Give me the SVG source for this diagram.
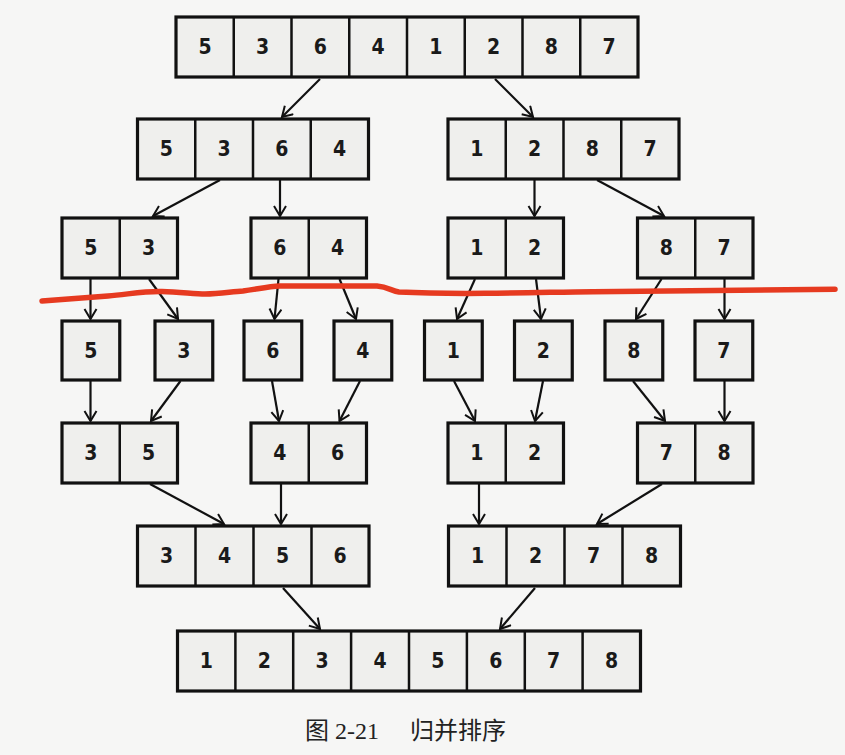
<svg xmlns="http://www.w3.org/2000/svg" width="845" height="755" viewBox="0 0 845 755">
<defs>
<marker id="ah" markerUnits="userSpaceOnUse" markerWidth="14" markerHeight="16" refX="11" refY="7" orient="auto">
<path d="M1,1 L11,7 L1,13" fill="none" stroke="#111" stroke-width="2"/>
</marker>
</defs>
<style>
.c{fill:#efefed;stroke:#111;stroke-width:3.2}
.d{stroke:#111;stroke-width:2.5}
.t{font-family:"DejaVu Sans Condensed","Liberation Sans",sans-serif;font-weight:bold;font-size:21px;fill:#1a1a1a;text-anchor:middle;dominant-baseline:central}
.a{stroke:#111;stroke-width:2.2;fill:none;marker-end:url(#ah)}
.cap{font-family:"Liberation Serif","Noto Sans CJK SC",serif;font-size:24px;fill:#222}
</style>
<rect width="845" height="755" fill="#f6f6f5"/>

<!-- Row 1 -->
<g id="r1">
<rect class="c" x="176" y="17" width="462" height="60"/>
<path class="d" d="M233.75 17V77M291.5 17V77M349.25 17V77M407 17V77M464.75 17V77M522.5 17V77M580.25 17V77"/>
<text class="t" x="205" y="47">5</text><text class="t" x="262.6" y="47">3</text><text class="t" x="320.4" y="47">6</text><text class="t" x="378.1" y="47">4</text><text class="t" x="435.9" y="47">1</text><text class="t" x="493.6" y="47">2</text><text class="t" x="551.4" y="47">8</text><text class="t" x="609.1" y="47">7</text>
</g>

<!-- Row 2 -->
<g id="r2a">
<rect class="c" x="137.5" y="119" width="231" height="60"/>
<path class="d" d="M195.25 119V179M253 119V179M310.75 119V179"/>
<text class="t" x="166.4" y="149">5</text><text class="t" x="224.1" y="149">3</text><text class="t" x="281.9" y="149">6</text><text class="t" x="339.6" y="149">4</text>
</g>
<g id="r2b">
<rect class="c" x="448" y="119" width="231" height="60"/>
<path class="d" d="M505.75 119V179M563.5 119V179M621.25 119V179"/>
<text class="t" x="476.9" y="149">1</text><text class="t" x="534.6" y="149">2</text><text class="t" x="592.4" y="149">8</text><text class="t" x="650.1" y="149">7</text>
</g>

<!-- Row 3 -->
<g id="r3a"><rect class="c" x="62" y="218" width="115.5" height="60"/><path class="d" d="M119.75 218V278"/><text class="t" x="90.9" y="248">5</text><text class="t" x="148.6" y="248">3</text></g>
<g id="r3b"><rect class="c" x="251" y="218" width="115.5" height="60"/><path class="d" d="M308.75 218V278"/><text class="t" x="279.9" y="248">6</text><text class="t" x="337.6" y="248">4</text></g>
<g id="r3c"><rect class="c" x="448" y="218" width="115.5" height="60"/><path class="d" d="M505.75 218V278"/><text class="t" x="476.9" y="248">1</text><text class="t" x="534.6" y="248">2</text></g>
<g id="r3d"><rect class="c" x="637.5" y="218" width="115.5" height="60"/><path class="d" d="M695.25 218V278"/><text class="t" x="666.4" y="248">8</text><text class="t" x="724.1" y="248">7</text></g>

<!-- Row 4 -->
<g id="r4a"><rect class="c" x="62" y="321" width="57.75" height="59"/><text class="t" x="90.9" y="350.5">5</text></g>
<g id="r4b"><rect class="c" x="155" y="321" width="57.75" height="59"/><text class="t" x="183.9" y="350.5">3</text></g>
<g id="r4c"><rect class="c" x="244" y="321" width="57.75" height="59"/><text class="t" x="272.9" y="350.5">6</text></g>
<g id="r4d"><rect class="c" x="334" y="321" width="57.75" height="59"/><text class="t" x="362.9" y="350.5">4</text></g>
<g id="r4e"><rect class="c" x="424.5" y="321" width="57.75" height="59"/><text class="t" x="453.4" y="350.5">1</text></g>
<g id="r4f"><rect class="c" x="514.5" y="321" width="57.75" height="59"/><text class="t" x="543.4" y="350.5">2</text></g>
<g id="r4g"><rect class="c" x="605" y="321" width="57.75" height="59"/><text class="t" x="633.9" y="350.5">8</text></g>
<g id="r4h"><rect class="c" x="695" y="321" width="57.75" height="59"/><text class="t" x="723.9" y="350.5">7</text></g>

<!-- Row 5 -->
<g id="r5a"><rect class="c" x="62" y="423" width="115.5" height="60"/><path class="d" d="M119.75 423V483"/><text class="t" x="90.9" y="453">3</text><text class="t" x="148.6" y="453">5</text></g>
<g id="r5b"><rect class="c" x="251" y="423" width="115.5" height="60"/><path class="d" d="M308.75 423V483"/><text class="t" x="279.9" y="453">4</text><text class="t" x="337.6" y="453">6</text></g>
<g id="r5c"><rect class="c" x="448" y="423" width="115.5" height="60"/><path class="d" d="M505.75 423V483"/><text class="t" x="476.9" y="453">1</text><text class="t" x="534.6" y="453">2</text></g>
<g id="r5d"><rect class="c" x="637.5" y="423" width="115.5" height="60"/><path class="d" d="M695.25 423V483"/><text class="t" x="666.4" y="453">7</text><text class="t" x="724.1" y="453">8</text></g>

<!-- Row 6 -->
<g id="r6a">
<rect class="c" x="137.5" y="526" width="231.5" height="60"/>
<path class="d" d="M195.5 526V586M253.5 526V586M311.5 526V586"/>
<text class="t" x="166.5" y="556">3</text><text class="t" x="224.5" y="556">4</text><text class="t" x="282.5" y="556">5</text><text class="t" x="340.2" y="556">6</text>
</g>
<g id="r6b">
<rect class="c" x="448.5" y="526" width="232" height="60"/>
<path class="d" d="M506.5 526V586M564.5 526V586M622.5 526V586"/>
<text class="t" x="477.5" y="556">1</text><text class="t" x="535.5" y="556">2</text><text class="t" x="593.5" y="556">7</text><text class="t" x="651.5" y="556">8</text>
</g>

<!-- Row 7 -->
<g id="r7">
<rect class="c" x="177.5" y="631" width="463" height="60"/>
<path class="d" d="M235.4 631V691M293.2 631V691M351.1 631V691M409 631V691M466.9 631V691M524.8 631V691M582.6 631V691"/>
<text class="t" x="206.4" y="661">1</text><text class="t" x="264.3" y="661">2</text><text class="t" x="322.1" y="661">3</text><text class="t" x="380" y="661">4</text><text class="t" x="437.9" y="661">5</text><text class="t" x="495.8" y="661">6</text><text class="t" x="553.7" y="661">7</text><text class="t" x="611.5" y="661">8</text>
</g>

<g id="connectors">
<line class="a" x1="320" y1="79" x2="282" y2="117"/>
<line class="a" x1="495" y1="79" x2="533" y2="117"/>
<line class="a" x1="220" y1="180" x2="153" y2="216"/>
<line class="a" x1="280" y1="180" x2="280" y2="216"/>
<line class="a" x1="534.5" y1="180" x2="534.5" y2="216"/>
<line class="a" x1="597" y1="180" x2="664" y2="216"/>

<line class="a" x1="90.5" y1="279" x2="90.5" y2="319"/>
<line class="a" x1="149" y1="279" x2="178" y2="319"/>
<line class="a" x1="278.5" y1="279" x2="274.5" y2="319"/>
<line class="a" x1="339.5" y1="279" x2="356" y2="319"/>
<line class="a" x1="475" y1="279" x2="457" y2="319"/>
<line class="a" x1="536" y1="279" x2="541" y2="319"/>
<line class="a" x1="661.5" y1="279" x2="636" y2="319"/>
<line class="a" x1="724.5" y1="279" x2="724.5" y2="319"/>

<line class="a" x1="90.5" y1="381" x2="90.5" y2="421"/>
<line class="a" x1="180.5" y1="381" x2="151" y2="421"/>
<line class="a" x1="272" y1="381" x2="279" y2="421"/>
<line class="a" x1="360" y1="381" x2="339.5" y2="421"/>
<line class="a" x1="454" y1="381" x2="475" y2="421"/>
<line class="a" x1="543" y1="381" x2="535" y2="421"/>
<line class="a" x1="633" y1="381" x2="665" y2="421"/>
<line class="a" x1="724.5" y1="381" x2="724.5" y2="421"/>

<line class="a" x1="150" y1="484" x2="224" y2="524"/>
<line class="a" x1="281" y1="484" x2="281" y2="524"/>
<line class="a" x1="479" y1="484" x2="479" y2="524"/>
<line class="a" x1="662" y1="484" x2="597" y2="524"/>

<line class="a" x1="283" y1="588" x2="320" y2="629"/>
<line class="a" x1="535" y1="588" x2="500" y2="629"/>
</g>

<path d="M42,301 C70,299 95,297 108,296 C130,294 145,291 162,291.5 C180,292 195,294 205,294 C220,294 232,291.5 243,291 C258,289 268,286.5 280,286 L377,286 C388,287 392,291 399,292 C430,293.5 460,293.5 485,293.3 C530,293 560,292 593,291.7 C680,290.5 760,289.6 835,289.3" fill="none" stroke="#e63a20" stroke-width="5.5" stroke-linecap="round"/>

<text class="cap" x="305" y="739">图 2-21<tspan x="410">归并排序</tspan></text>
</svg>
